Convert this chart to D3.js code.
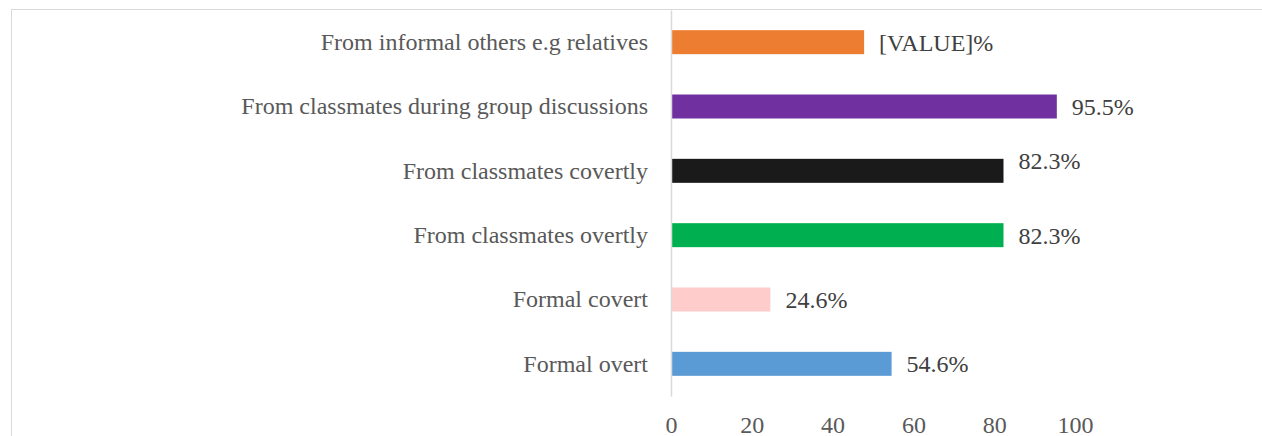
<!DOCTYPE html>
<html>
<head>
<meta charset="utf-8">
<script src="https://cdn.jsdelivr.net/npm/d3@7"></script>
<style>
  body { margin: 0; background: #fff; }
  text { font-family: "Liberation Serif", "Times New Roman", serif; }
</style>
</head>
<body>
<div id="chart"></div>
<script>
// Categorías de abajo hacia arriba, como en el original
const categories = [
  'Formal overt',
  'Formal covert',
  'From classmates overtly',
  'From classmates covertly',
  'From classmates during group discussions',
  'From informal others e.g relatives'
]
const values = [54.6, 24.6, 82.3, 82.3, 95.5, 47.8]
const labels = ['54.6%', '24.6%', '82.3%', '82.3%', '95.5%', '[VALUE]%']
const colors = ['#5b9bd5', '#ffcccc', '#00b050', '#1a1a1a', '#7030a0', '#ed7d31']
const ticks = [0, 20, 40, 60, 80, 100]

const width = 1262, height = 436
const margin = { top: 10, right: 187, bottom: 40, left: 671 }
const fontSize = 24

const svg = d3.select('#chart').append('svg')
  .attr('width', width)
  .attr('height', height)

// Marco del gráfico
svg.append('rect')
  .attr('x', 11.5).attr('y', 9.5)
  .attr('width', 1300).attr('height', 500)
  .attr('fill', 'none')
  .attr('stroke', '#d9d9d9')

const x = d3.scaleLinear()
  .domain([0, 100])
  .range([margin.left, width - margin.right])

const y = d3.scaleBand()
  .domain(categories.slice().reverse())
  .range([margin.top, height - margin.bottom])
  .paddingInner(0.627)
  .paddingOuter(0.3135)

// Eje x (solo etiquetas)
const xAxis = svg.append('g')
  .attr('transform', `translate(0, ${height - margin.bottom})`)
  .call(d3.axisBottom(x).tickValues(ticks).tickSize(0).tickPadding(20))
xAxis.select('.domain').remove()
xAxis.selectAll('text')
  .attr('font-size', fontSize)
  .attr('fill', '#595959')
  .style('font-family', '"Liberation Serif", serif')

// Barras
svg.selectAll('.bar')
  .data(categories)
  .enter()
  .append('rect')
  .attr('class', 'bar')
  .attr('x', x(0))
  .attr('y', d => y(d))
  .attr('width', (d, i) => x(values[i]) - x(0))
  .attr('height', y.bandwidth())
  .attr('fill', (d, i) => colors[i])

// Eje y (línea vertical y categorías)
const yAxis = svg.append('g')
  .attr('transform', `translate(${x(0)}, 0)`)
  .call(d3.axisLeft(y).tickSize(0).tickPadding(23))
yAxis.select('.domain')
  .attr('stroke', '#d9d9d9')
  .attr('stroke-width', 1.5)
yAxis.selectAll('text')
  .attr('font-size', fontSize)
  .attr('fill', '#595959')
  .style('font-family', '"Liberation Serif", serif')

// Etiquetas de valor (la de covertly queda un poco más arriba, como en el original)
svg.selectAll('.value')
  .data(categories)
  .enter()
  .append('text')
  .attr('class', 'value')
  .attr('x', (d, i) => x(values[i]) + 15)
  .attr('y', (d, i) => y(d) + y.bandwidth() / 2 + (d === 'From classmates covertly' ? -10 : 0))
  .attr('dy', '0.35em')
  .attr('font-size', fontSize)
  .attr('fill', '#404040')
  .text((d, i) => labels[i])
</script>
</body>
</html>
